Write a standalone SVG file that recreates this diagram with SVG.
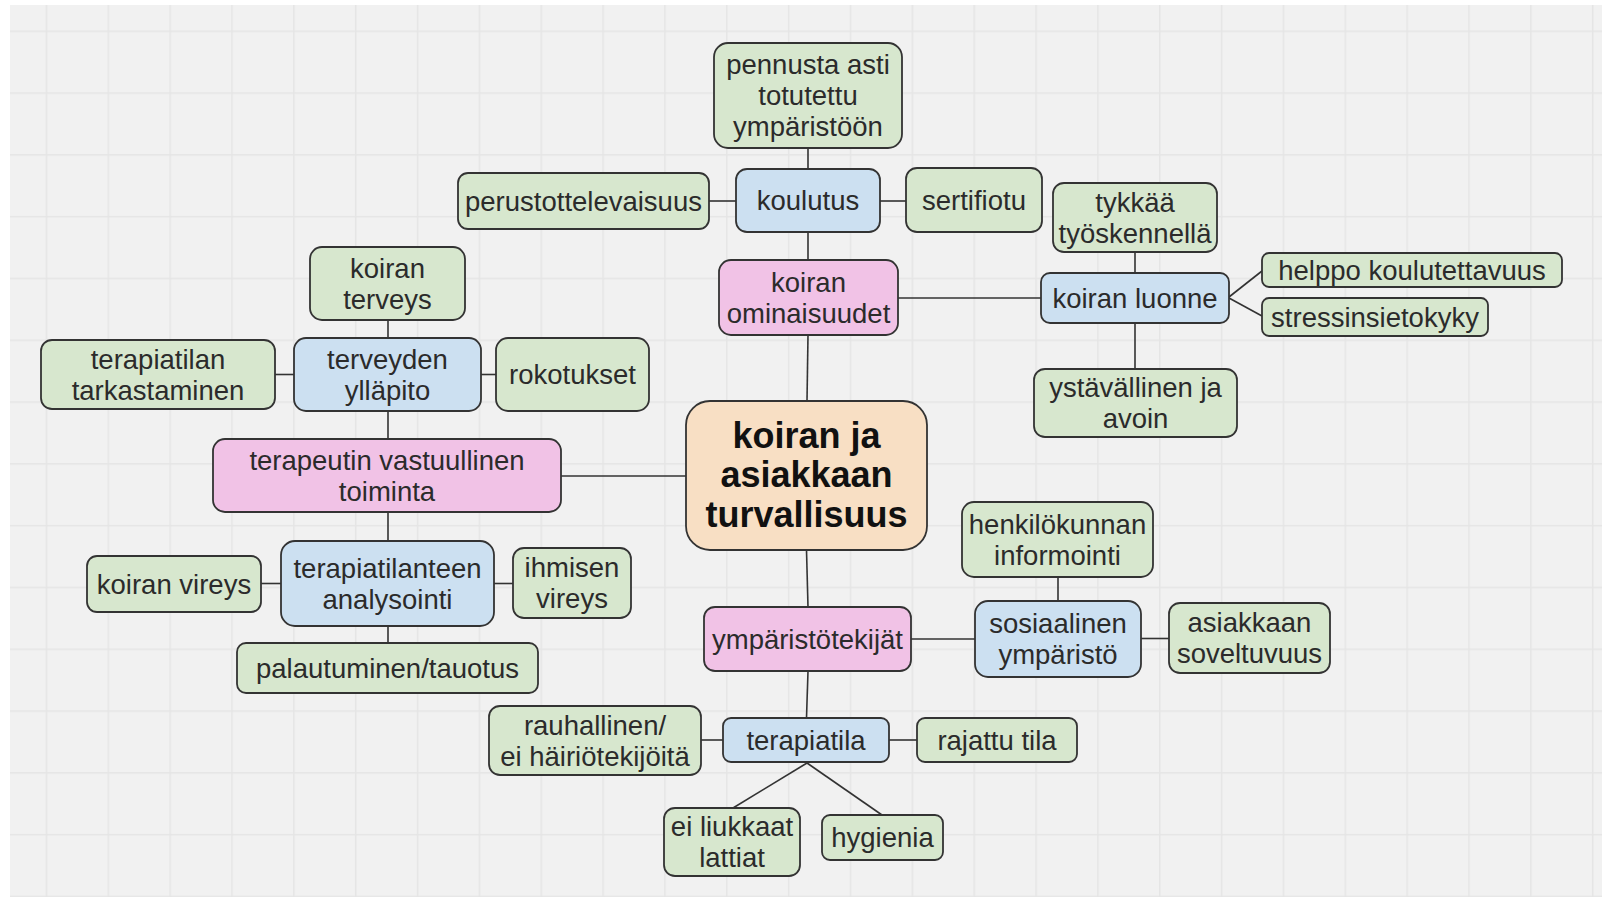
<svg xmlns="http://www.w3.org/2000/svg" width="1607" height="900" viewBox="0 0 1607 900">
<defs>
<pattern id="grid" x="45.7" y="30.5" width="61.85" height="61.8" patternUnits="userSpaceOnUse">
<path d="M0.75 0 V61.8 M0 0.75 H61.85" stroke="#e5e5e5" stroke-width="1.5" fill="none"/>
</pattern>
<style>
.n rect{stroke:#333;stroke-width:1.8}
.g rect{fill:#d7e7ce}
.b rect{fill:#cce0f1}
.p rect{fill:#f1c2e6}
.o rect{fill:#f8dfc4}
.n text{font-family:"Liberation Sans",Arial,sans-serif;font-size:27.5px;fill:#2b2b2b;text-anchor:middle}
.o text{font-size:36px;font-weight:bold;fill:#111}
#connectors line{stroke:#333;stroke-width:1.6}
</style>
</defs>
<rect x="0" y="0" width="1607" height="900" fill="#ffffff"/>
<rect x="10" y="5" width="1592" height="892" fill="#f1f1f1"/>
<rect x="10" y="5" width="1592" height="892" fill="url(#grid)"/>

<g id="connectors">
<line x1="808" y1="148" x2="808" y2="169"/>
<line x1="808" y1="232" x2="808" y2="260"/>
<line x1="709" y1="201" x2="736" y2="201"/>
<line x1="880" y1="201" x2="906" y2="201"/>
<line x1="808" y1="335" x2="807" y2="401"/>
<line x1="898" y1="298" x2="1041" y2="298"/>
<line x1="1135" y1="252" x2="1135" y2="273"/>
<line x1="1135" y1="323" x2="1135" y2="369"/>
<line x1="1229" y1="297" x2="1262" y2="271"/>
<line x1="1229" y1="298" x2="1262" y2="316"/>
<line x1="388" y1="320" x2="388" y2="338"/>
<line x1="275" y1="374.5" x2="294" y2="374.5"/>
<line x1="481" y1="374.5" x2="496" y2="374.5"/>
<line x1="388" y1="411" x2="388" y2="439"/>
<line x1="561" y1="476" x2="686" y2="476"/>
<line x1="388" y1="512" x2="388" y2="541"/>
<line x1="261" y1="583.5" x2="281" y2="583.5"/>
<line x1="494" y1="583.5" x2="513" y2="583.5"/>
<line x1="388" y1="626" x2="388" y2="643"/>
<line x1="806.5" y1="550" x2="808" y2="607"/>
<line x1="911" y1="639" x2="975" y2="639"/>
<line x1="1058" y1="577" x2="1058" y2="601"/>
<line x1="1141" y1="638.5" x2="1169" y2="638.5"/>
<line x1="808" y1="671" x2="806.5" y2="718"/>
<line x1="701" y1="740" x2="723" y2="740"/>
<line x1="889" y1="740" x2="917" y2="740"/>
<line x1="807" y1="763" x2="733" y2="808"/>
<line x1="807" y1="763" x2="882" y2="815"/>
</g>

<g id="n-pennusta" class="n g"><rect x="714" y="43" width="188" height="105" rx="14"/><text x="808" y="74">pennusta asti</text><text x="808" y="105">totutettu</text><text x="808" y="136">ympäristöön</text></g>
<g id="n-koulutus" class="n b"><rect x="736" y="169" width="144" height="63" rx="11"/><text x="808" y="210">koulutus</text></g>
<g id="n-perustottelevaisuus" class="n g"><rect x="458" y="173" width="251" height="56" rx="10"/><text x="583.5" y="210.5">perustottelevaisuus</text></g>
<g id="n-sertifiotu" class="n g"><rect x="906" y="168" width="136" height="64" rx="11"/><text x="974" y="209.5">sertifiotu</text></g>
<g id="n-ominaisuudet" class="n p"><rect x="719" y="260" width="179" height="75" rx="12"/><text x="808.5" y="291.5">koiran</text><text x="808.5" y="322.5">ominaisuudet</text></g>
<g id="n-tykkaa" class="n g"><rect x="1053" y="183" width="164" height="69" rx="11"/><text x="1135" y="211.5">tykkää</text><text x="1135" y="242.5">työskennellä</text></g>
<g id="n-luonne" class="n b"><rect x="1041" y="273" width="188" height="50" rx="9"/><text x="1135" y="307.5">koiran luonne</text></g>
<g id="n-helppo" class="n g"><rect x="1262" y="253" width="300" height="34" rx="7"/><text x="1412" y="279.5">helppo koulutettavuus</text></g>
<g id="n-stressi" class="n g"><rect x="1262" y="298" width="226" height="38" rx="7"/><text x="1375" y="326.5">stressinsietokyky</text></g>
<g id="n-ystavallinen" class="n g"><rect x="1034" y="369" width="203" height="68" rx="11"/><text x="1135.5" y="397">ystävällinen ja</text><text x="1135.5" y="428">avoin</text></g>

<g id="n-terveys" class="n g"><rect x="310" y="247" width="155" height="73" rx="12"/><text x="387.5" y="277.5">koiran</text><text x="387.5" y="308.5">terveys</text></g>
<g id="n-yllapito" class="n b"><rect x="294" y="338" width="187" height="73" rx="12"/><text x="387.5" y="368.5">terveyden</text><text x="387.5" y="399.5">ylläpito</text></g>
<g id="n-tarkastaminen" class="n g"><rect x="41" y="340" width="234" height="69" rx="11"/><text x="158" y="368.5">terapiatilan</text><text x="158" y="399.5">tarkastaminen</text></g>
<g id="n-rokotukset" class="n g"><rect x="496" y="338" width="153" height="73" rx="12"/><text x="572.5" y="384">rokotukset</text></g>
<g id="n-terapeutin" class="n p"><rect x="213" y="439" width="348" height="73" rx="12"/><text x="387" y="469.5">terapeutin vastuullinen</text><text x="387" y="500.5">toiminta</text></g>
<g id="n-analysointi" class="n b"><rect x="281" y="541" width="213" height="85" rx="14"/><text x="387.5" y="577.5">terapiatilanteen</text><text x="387.5" y="608.5">analysointi</text></g>
<g id="n-koiranvireys" class="n g"><rect x="87" y="556" width="174" height="56" rx="10"/><text x="174" y="593.5">koiran vireys</text></g>
<g id="n-ihmisenvireys" class="n g"><rect x="513" y="548" width="118" height="70" rx="11"/><text x="572" y="577">ihmisen</text><text x="572" y="608">vireys</text></g>
<g id="n-palautuminen" class="n g"><rect x="237" y="643" width="301" height="50" rx="9"/><text x="387.5" y="677.5">palautuminen/tauotus</text></g>
<g id="n-rauhallinen" class="n g"><rect x="489" y="706" width="212" height="69" rx="11"/><text x="595" y="734.5">rauhallinen/</text><text x="595" y="765.5">ei häiriötekijöitä</text></g>

<g id="n-center" class="n o"><rect x="686" y="401" width="241" height="149" rx="24"/><text x="806.5" y="447.5">koiran ja</text><text x="806.5" y="487">asiakkaan</text><text x="806.5" y="526.5">turvallisuus</text></g>

<g id="n-ymparistotekijat" class="n p"><rect x="704" y="607" width="207" height="64" rx="11"/><text x="807.5" y="648.5">ympäristötekijät</text></g>
<g id="n-sosiaalinen" class="n b"><rect x="975" y="601" width="166" height="76" rx="13"/><text x="1058" y="633">sosiaalinen</text><text x="1058" y="664">ympäristö</text></g>
<g id="n-henkilokunnan" class="n g"><rect x="962" y="502" width="191" height="75" rx="12"/><text x="1057.5" y="533.5">henkilökunnan</text><text x="1057.5" y="564.5">informointi</text></g>
<g id="n-asiakkaan" class="n g"><rect x="1169" y="603" width="161" height="70" rx="11"/><text x="1249.5" y="632">asiakkaan</text><text x="1249.5" y="663">soveltuvuus</text></g>
<g id="n-terapiatila" class="n b"><rect x="723" y="718" width="166" height="44" rx="8"/><text x="806" y="749.5">terapiatila</text></g>
<g id="n-rajattu" class="n g"><rect x="917" y="718" width="160" height="44" rx="8"/><text x="997" y="749.5">rajattu tila</text></g>
<g id="n-liukkaat" class="n g"><rect x="664" y="808" width="136" height="68" rx="11"/><text x="732" y="836">ei liukkaat</text><text x="732" y="867">lattiat</text></g>
<g id="n-hygienia" class="n g"><rect x="822" y="815" width="121" height="45" rx="8"/><text x="882.5" y="847">hygienia</text></g>
</svg>
